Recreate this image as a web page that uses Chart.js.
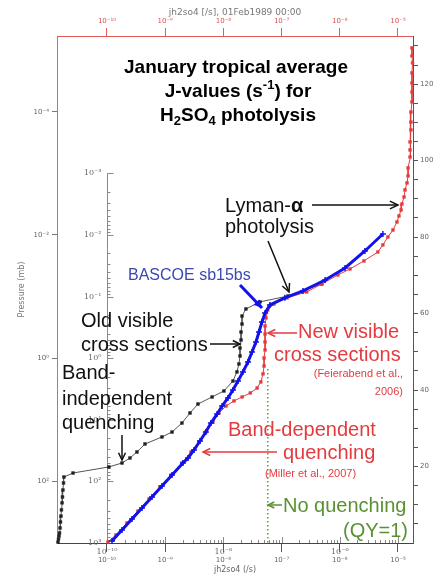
<!DOCTYPE html>
<html>
<head>
<meta charset="utf-8">
<script src="https://cdn.jsdelivr.net/npm/chart.js@4/dist/chart.umd.min.js"></script>
<style>
  html, body { margin: 0; padding: 0; background: #fff; }
  canvas { display: block; }
</style>
</head>
<body>
<canvas id="jChart" width="435" height="575"></canvas>
<script>
// pressure levels (mb) and J-values (/s)
const newPres = [9.2e-6, 1.24e-5, 1.61e-5, 2.34e-5, 3.40e-5, 4.77e-5, 6.93e-5, 1.01e-4, 1.47e-4, 1.97e-4,
  3.09e-4, 4.17e-4, 5.42e-4, 8.17e-4, 1.10e-3, 1.43e-3, 1.86e-3, 2.42e-3, 3.14e-3, 3.93e-3,
  4.92e-3, 6.15e-3, 8.30e-3, 1.08e-2, 1.45e-2, 1.89e-2, 2.64e-2, 3.56e-2, 4.46e-2, 6.24e-2,
  8.42e-2, 0.105, 0.132, 0.165, 0.222, 0.300, 0.405, 0.546, 0.736, 0.993,
  1.34, 1.80, 2.43, 3.05, 3.67, 4.26, 4.95, 5.97, 7.76, 10.9,
  15.8, 22.9, 33.3, 50.3, 78.7, 123, 193, 303, 473, 741, 964];
const newJ = [1.74e-5, 1.74e-5, 1.78e-5, 1.74e-5, 1.74e-5, 1.74e-5, 1.74e-5, 1.67e-5, 1.67e-5, 1.67e-5,
  1.61e-5, 1.61e-5, 1.61e-5, 1.49e-5, 1.49e-5, 1.43e-5, 1.32e-5, 1.27e-5, 1.17e-5, 1.13e-5,
  1.04e-5, 9.6e-6, 8.2e-6, 6.7e-6, 5.5e-6, 4.5e-6, 2.6e-6, 1.5e-6, 9.3e-7, 4.9e-7,
  2.7e-7, 1.24e-7, 7.4e-8, 5.8e-8, 5.4e-8, 5.2e-8, 5.2e-8, 5.2e-8, 5.2e-8, 5.0e-8,
  5.0e-8, 4.8e-8, 4.4e-8, 3.8e-8, 2.9e-8, 2.1e-8, 1.52e-8, 1.11e-8, 8.4e-9, 6.65e-9,
  5.0e-9, 3.8e-9, 2.78e-9, 1.95e-9, 1.26e-9, 8.1e-10, 5.26e-10, 3.4e-10, 2.2e-10, 1.42e-10, 1.04e-10];

const bascoePres = [9.64e-3, 1.82e-2, 3.43e-2, 5.38e-2, 8.11e-2, 0.105, 0.137, 0.185, 0.258, 0.376,
  0.546, 0.793, 1.15, 1.67, 2.35, 3.28, 4.43, 5.97, 8.05, 11.3,
  15.8, 22.1, 30.9, 41.7, 50.3, 78.7, 119, 179, 270, 408, 615, 929];
const bascoeJ = [5.5e-6, 2.7e-6, 1.23e-6, 5.6e-7, 2.33e-7, 1.14e-7, 6.3e-8, 5.2e-8, 4.6e-8, 4.09e-8,
  3.63e-8, 3.10e-8, 2.65e-8, 2.17e-8, 1.78e-8, 1.46e-8, 1.20e-8, 9.5e-9, 7.8e-9, 6.1e-9,
  5.0e-9, 3.96e-9, 3.13e-9, 2.47e-9, 2.02e-9, 1.31e-9, 8.8e-10, 5.93e-10, 3.99e-10, 2.69e-10, 1.81e-10, 1.22e-10];

const oldPres = [6.24e-2, 9.8e-2, 0.122, 0.159, 0.207, 0.279, 0.376, 0.507, 0.683, 0.920,
  1.24, 1.67, 2.35, 3.41, 4.26, 5.55, 7.76, 11.3, 15.8, 19.0,
  24.7, 33.3, 41.7, 50.3, 58.3, 73.1, 84.9, 106, 138, 179,
  223, 290, 365, 456, 570, 687, 769, 861, 964];
const oldJ = [4.9e-7, 1.29e-7, 4.26e-8, 2.44e-8, 2.09e-8, 2.09e-8, 2.01e-8, 2.01e-8, 1.93e-8, 1.93e-8,
  1.85e-8, 1.71e-8, 1.46e-8, 1.02e-8, 6.4e-9, 3.66e-9, 2.67e-9, 1.94e-9, 1.31e-9, 8.8e-10,
  4.5e-10, 3.27e-10, 2.48e-10, 1.81e-10, 1.08e-10, 2.61e-11, 1.82e-11, 1.79e-11, 1.75e-11, 1.72e-11,
  1.69e-11, 1.65e-11, 1.62e-11, 1.59e-11, 1.56e-11, 1.53e-11, 1.50e-11, 1.47e-11, 1.44e-11];

const noQuenchPres = [1.5, 1000];
const noQuenchJ = [5.8e-8, 5.8e-8];

// axis ranges and tick values
const jRange = [1.384e-11, 1.811e-5];
const presRange = [5.9e-6, 1000];
const altRange = [0, 132.6];
const jTicks = [1e-10, 1e-9, 1e-8, 1e-7, 1e-6, 1e-5];
const presTicks = [1e-4, 1e-2, 1, 100];
const insetPresTicks = [1e-3, 1e-2, 1e-1, 1, 10, 100, 1000];
const insetJTicks = [1e-10, 1e-8, 1e-6];
const altTicks = [];
for (let a = 5; a <= 130; a += 5) altTicks.push(a);

const SUP = { '-': '\u207B', '0': '\u2070', '1': '\u00B9', '2': '\u00B2', '3': '\u00B3', '4': '\u2074',
  '5': '\u2075', '6': '\u2076', '7': '\u2077', '8': '\u2078', '9': '\u2079' };
function pow10(v) {
  const e = Math.round(Math.log10(v));
  return '10' + String(e).split('').map(c => SUP[c]).join('');
}

const RED = '#e43b3f', BLUE = '#1212ea', GREEN = '#5a9133';
const SANS = '"Liberation Sans", Arial, sans-serif';

function richText(ctx, n) {
  const fontFor = p => {
    const small = p[1] === 'sup' || p[1] === 'sub';
    const w = (n.bold || p[1] === 'b') ? 'bold ' : '';
    return w + (small ? Math.round(n.size * 0.66) : n.size) + 'px ' + SANS;
  };
  let total = 0;
  n.parts.forEach(p => { ctx.font = fontFor(p); total += ctx.measureText(p[0]).width; });
  let cx = n.align === 'center' ? n.x - total / 2 : n.align === 'right' ? n.x - total : n.x;
  ctx.fillStyle = n.color;
  ctx.textAlign = 'left';
  ctx.textBaseline = 'alphabetic';
  n.parts.forEach(p => {
    ctx.font = fontFor(p);
    const dy = p[1] === 'sup' ? -n.size * 0.4 : p[1] === 'sub' ? n.size * 0.22 : 0;
    ctx.fillText(p[0], cx, n.y + dy);
    cx += ctx.measureText(p[0]).width;
  });
}

function arrow(ctx, a) {
  const ang = Math.atan2(a.y2 - a.y1, a.x2 - a.x1);
  ctx.strokeStyle = a.color;
  ctx.fillStyle = a.color;
  ctx.lineWidth = a.w;
  ctx.beginPath();
  ctx.moveTo(a.x1, a.y1);
  ctx.lineTo(a.x2, a.y2);
  ctx.stroke();
  ctx.beginPath();
  ctx.moveTo(a.x2 - a.head * Math.cos(ang - 0.45), a.y2 - a.head * Math.sin(ang - 0.45));
  ctx.lineTo(a.x2, a.y2);
  ctx.lineTo(a.x2 - a.head * Math.cos(ang + 0.45), a.y2 - a.head * Math.sin(ang + 0.45));
  if (a.fill) { ctx.closePath(); ctx.fill(); } else { ctx.stroke(); }
}

// annotation texts (baseline positions in canvas pixels)
const notes = [
  { parts: [['January tropical average']], x: 236, y: 73, size: 19, bold: true, align: 'center', color: '#000' },
  { parts: [['J-values (s'], ['-1', 'sup'], [') for']], x: 238, y: 97, size: 19, bold: true, align: 'center', color: '#000' },
  { parts: [['H'], ['2', 'sub'], ['SO'], ['4', 'sub'], [' photolysis']], x: 238, y: 121, size: 19, bold: true, align: 'center', color: '#000' },
  { parts: [['Lyman-'], ['\u03B1', 'b']], x: 225, y: 212, size: 20, align: 'left', color: '#111' },
  { parts: [['photolysis']], x: 225, y: 233, size: 20, align: 'left', color: '#111' },
  { parts: [['BASCOE sb15bs']], x: 128, y: 280, size: 16, align: 'left', color: '#3a48b2' },
  { parts: [['Old visible']], x: 81, y: 327, size: 20, align: 'left', color: '#111' },
  { parts: [['cross sections']], x: 81, y: 351, size: 20, align: 'left', color: '#111' },
  { parts: [['Band-']], x: 62, y: 379, size: 20, align: 'left', color: '#111' },
  { parts: [['independent']], x: 62, y: 405, size: 20, align: 'left', color: '#111' },
  { parts: [['quenching']], x: 62, y: 429, size: 20, align: 'left', color: '#111' },
  { parts: [['New visible']], x: 298, y: 338, size: 20, align: 'left', color: RED },
  { parts: [['cross sections']], x: 274, y: 361, size: 20, align: 'left', color: RED },
  { parts: [['(Feierabend et al.,']], x: 403, y: 377, size: 11, align: 'right', color: RED },
  { parts: [['2006)']], x: 403, y: 395, size: 11, align: 'right', color: RED },
  { parts: [['Band-dependent']], x: 228, y: 436, size: 20, align: 'left', color: RED },
  { parts: [['quenching']], x: 283, y: 459, size: 20, align: 'left', color: RED },
  { parts: [['(Miller et al., 2007)']], x: 265, y: 477, size: 11, align: 'left', color: RED },
  { parts: [['No quenching']], x: 283, y: 512, size: 20, align: 'left', color: GREEN },
  { parts: [['(QY=1)']], x: 408, y: 537, size: 20, align: 'right', color: GREEN }
];
const arrows = [
  { x1: 312, y1: 205, x2: 398, y2: 205, color: '#111', w: 1.5, head: 9 },
  { x1: 268, y1: 241, x2: 289, y2: 292, color: '#111', w: 1.5, head: 9 },
  { x1: 240, y1: 285, x2: 262, y2: 308, color: BLUE, w: 3, head: 9, fill: true },
  { x1: 210, y1: 344, x2: 240, y2: 344, color: '#111', w: 1.5, head: 8 },
  { x1: 122, y1: 435, x2: 122, y2: 460, color: '#111', w: 1.5, head: 8 },
  { x1: 297, y1: 333, x2: 268, y2: 333, color: RED, w: 1.5, head: 8 },
  { x1: 277, y1: 452, x2: 203, y2: 452, color: RED, w: 1.5, head: 8 },
  { x1: 282, y1: 505, x2: 268, y2: 505, color: GREEN, w: 1.5, head: 7 }
];

// inset pressure axis sitting at J = 1e-10, plus its bottom ticks
const insetAxes = {
  id: 'insetAxes',
  beforeDatasetsDraw(chart) {
    const { ctx } = chart;
    const xs = chart.scales.x, ys = chart.scales.y;
    const ax = Math.round(xs.getPixelForValue(insetJTicks[0])) + 0.5;
    ctx.save();
    ctx.strokeStyle = '#8a8a8a';
    ctx.lineWidth = 1;
    ctx.beginPath();
    ctx.moveTo(ax, ys.getPixelForValue(insetPresTicks[0]));
    ctx.lineTo(ax, ys.bottom);
    for (let i = 0; i < insetPresTicks.length - 1; i++) {
      for (let m = 1; m <= 9; m++) {
        const py = Math.round(ys.getPixelForValue(insetPresTicks[i] * m)) + 0.5;
        ctx.moveTo(ax, py);
        ctx.lineTo(ax + (m === 1 ? 6 : 3), py);
      }
    }
    for (let d = 1e-10; d < jRange[1]; d *= 10) {
      for (let m = 1; m <= 9; m++) {
        const v = d * m;
        if (v > jRange[1]) break;
        const px = Math.round(xs.getPixelForValue(v)) + 0.5;
        ctx.moveTo(px, ys.bottom);
        ctx.lineTo(px, ys.bottom - (m === 1 ? 6 : 3));
      }
    }
    ctx.stroke();
    ctx.fillStyle = '#6a6a6a';
    ctx.font = '8px "DejaVu Serif", serif';
    ctx.textAlign = 'right';
    ctx.textBaseline = 'middle';
    insetPresTicks.forEach(p => ctx.fillText(pow10(p), ax - 6, ys.getPixelForValue(p)));
    ctx.textAlign = 'center';
    insetJTicks.forEach(j => ctx.fillText(pow10(j), xs.getPixelForValue(j), ys.bottom + 9));
    ctx.restore();
  },
  afterDraw(chart) {
    const { ctx } = chart;
    ctx.save();
    notes.forEach(n => richText(ctx, n));
    arrows.forEach(a => arrow(ctx, a));
    ctx.restore();
  }
};

const toPoints = (pres, j) => pres.map((p, i) => ({ x: j[i], y: p }));
const tickFont = { family: '"DejaVu Sans", sans-serif', size: 7 };

new Chart(document.getElementById('jChart'), {
  type: 'line',
  data: {
    datasets: [
      { label: 'BASCOE sb15bs', data: toPoints(bascoePres, bascoeJ), borderColor: BLUE, borderWidth: 3,
        pointStyle: 'cross', pointRadius: 3, pointBorderColor: BLUE, pointBorderWidth: 1.5, order: 0 },
      { label: 'New visible, band-dependent quenching', data: toPoints(newPres, newJ), borderColor: RED, borderWidth: 1,
        pointStyle: 'rect', pointRadius: 2, pointBackgroundColor: RED, pointBorderColor: RED, pointBorderWidth: 0.5, order: 1 },
      { label: 'Old visible, band-independent quenching', data: toPoints(oldPres, oldJ), borderColor: '#555', borderWidth: 1,
        pointStyle: 'rect', pointRadius: 2, pointBackgroundColor: '#222', pointBorderColor: '#222', pointBorderWidth: 0.5, order: 2 },
      { label: 'No quenching', data: toPoints(noQuenchPres, noQuenchJ), borderColor: '#3f8f2a', borderWidth: 1.3,
        borderDash: [1.5, 2.5], pointRadius: 0, order: 3 }
    ]
  },
  options: {
    responsive: false,
    devicePixelRatio: 1,
    animation: false,
    events: [],
    layout: { padding: 0 },
    elements: { line: { tension: 0 } },
    datasets: { line: { clip: false } },
    plugins: { legend: { display: false }, tooltip: { enabled: false } },
    scales: {
      x: {
        type: 'logarithmic', position: 'bottom', min: jRange[0], max: jRange[1], bounds: 'data',
        afterBuildTicks: s => { s.ticks = jTicks.map(v => ({ value: v })); },
        afterFit: s => { s.height = 32; },
        grid: { drawOnChartArea: false, tickLength: 9, color: '#555' },
        border: { color: '#444' },
        ticks: { autoSkip: false, maxRotation: 0, padding: 4, color: '#666', font: tickFont, callback: v => pow10(v) },
        title: { display: true, text: 'jh2so4 (/s)', color: '#666', font: { family: '"DejaVu Sans", sans-serif', size: 8 }, padding: { top: 0, bottom: 0 } }
      },
      xTop: {
        type: 'logarithmic', position: 'top', min: jRange[0], max: jRange[1], bounds: 'data',
        afterBuildTicks: s => { s.ticks = jTicks.map(v => ({ value: v })); },
        afterFit: s => { s.height = 36; },
        grid: { drawOnChartArea: false, tickLength: 8, color: '#e05a5a' },
        border: { color: '#e05a5a' },
        ticks: { autoSkip: false, maxRotation: 0, padding: 3, color: '#e05050', font: tickFont, callback: v => pow10(v) },
        title: { display: true, text: 'jh2so4 [/s], 01Feb1989 00:00', color: '#777', font: { family: '"DejaVu Sans", sans-serif', size: 9 }, padding: { top: 7, bottom: 0 } }
      },
      y: {
        type: 'logarithmic', position: 'left', reverse: true, min: presRange[0], max: presRange[1], bounds: 'data',
        afterBuildTicks: s => { s.ticks = presTicks.map(v => ({ value: v })); },
        afterFit: s => { s.width = 57; },
        grid: { drawOnChartArea: false, tickLength: 5, color: '#777' },
        border: { color: '#8a8a8a' },
        ticks: { autoSkip: false, padding: 3, color: '#666', font: tickFont, callback: v => pow10(v) },
        title: { display: true, text: 'Pressure (mb)', color: '#777', font: { family: '"DejaVu Sans", sans-serif', size: 8 }, padding: { top: 17, bottom: 0 } }
      },
      alt: {
        type: 'linear', position: 'right', min: altRange[0], max: altRange[1], bounds: 'data',
        afterBuildTicks: s => { s.ticks = altTicks.map(v => ({ value: v })); },
        afterFit: s => { s.width = 22; },
        grid: { drawOnChartArea: false, tickLength: 5, color: '#555' },
        border: { color: '#555' },
        ticks: { autoSkip: false, padding: 2, color: '#666', font: tickFont, callback: v => (v % 20 === 0 ? String(v) : '') }
      }
    }
  },
  plugins: [insetAxes]
});
</script>
</body>
</html>
